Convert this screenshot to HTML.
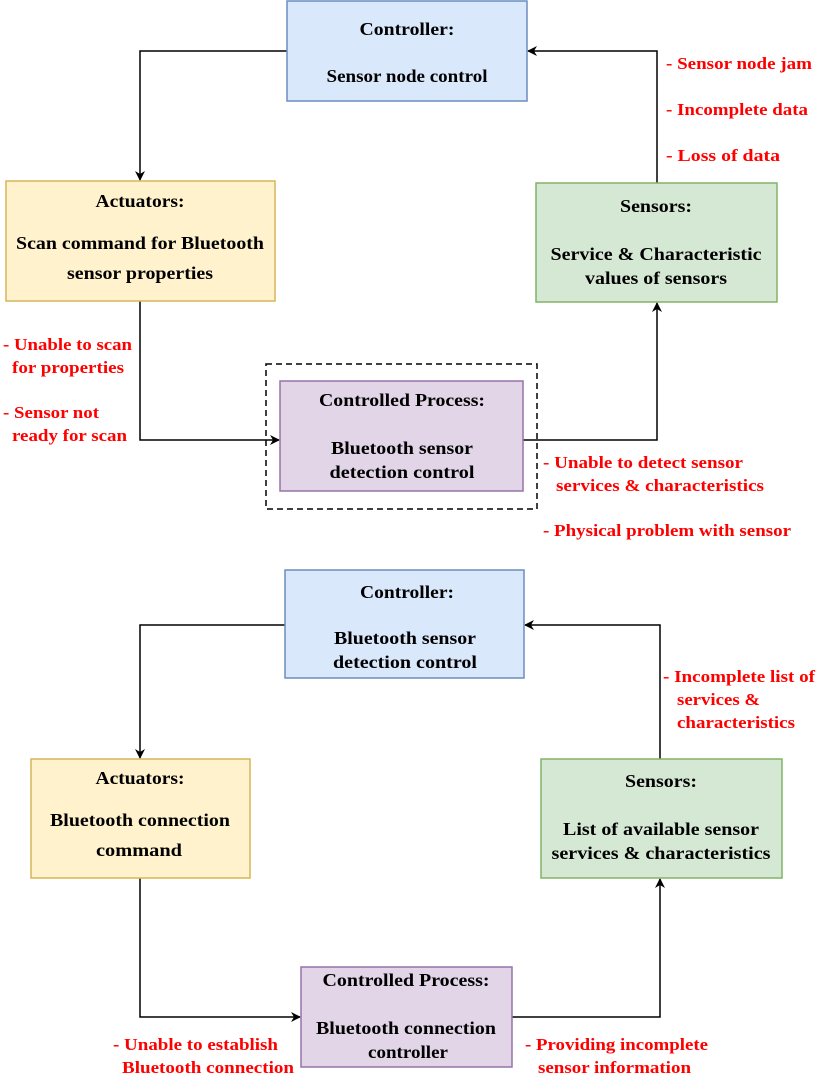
<!DOCTYPE html>
<html><head><meta charset="utf-8"><style>
html,body{margin:0;padding:0;background:#fff;}
svg{display:block;}
text{font-family:"Liberation Serif",serif;font-weight:bold;}
.b{font-size:17.5px;fill:#000;text-anchor:middle;}
.r{font-size:16.5px;fill:#ff0000;}
</style></head><body>
<svg width="825" height="1079" viewBox="0 0 825 1079" xmlns="http://www.w3.org/2000/svg">
<defs><marker id="a" markerWidth="10" markerHeight="10" refX="9" refY="5" orient="auto" markerUnits="userSpaceOnUse"><path d="M0,0 L10,5 L0,10 L3,5 z" fill="#000"/></marker></defs>
<g fill="none" stroke="#000" stroke-width="1.5">
<path d="M287,51 H140 V180" marker-end="url(#a)"/>
<path d="M140,301 V440 H279" marker-end="url(#a)"/>
<path d="M523,440 H657 V303" marker-end="url(#a)"/>
<path d="M657,183 V51 H528" marker-end="url(#a)"/>
<path d="M285,625 H140 V758" marker-end="url(#a)"/>
<path d="M140,878 V1017 H300" marker-end="url(#a)"/>
<path d="M512,1017 H660 V879" marker-end="url(#a)"/>
<path d="M660,759 V625 H525" marker-end="url(#a)"/>
</g>
<rect x="266" y="364" width="271" height="145" fill="none" stroke="#000" stroke-width="1.5" stroke-dasharray="6,4"/>
<g stroke-width="1.5">
<rect x="287" y="1" width="240" height="100" fill="#dae8fc" stroke="#6c8ebf"/>
<rect x="6" y="181" width="269" height="120" fill="#fff2cc" stroke="#d6b656"/>
<rect x="536" y="183" width="241" height="119" fill="#d5e8d4" stroke="#82b366"/>
<rect x="280" y="381" width="243" height="110" fill="#e1d5e7" stroke="#9673a6"/>
<rect x="285" y="570" width="239" height="108" fill="#dae8fc" stroke="#6c8ebf"/>
<rect x="31" y="759" width="219" height="119" fill="#fff2cc" stroke="#d6b656"/>
<rect x="541" y="759" width="241" height="119" fill="#d5e8d4" stroke="#82b366"/>
<rect x="301" y="967" width="211" height="100" fill="#e1d5e7" stroke="#9673a6"/>
</g>
<g class="b">
<text class="b" x="407" y="35" textLength="95" lengthAdjust="spacingAndGlyphs">Controller:</text>
<text class="b" x="407" y="82" textLength="161" lengthAdjust="spacingAndGlyphs">Sensor node control</text>
<text class="b" x="140" y="207" textLength="89" lengthAdjust="spacingAndGlyphs">Actuators:</text>
<text class="b" x="140" y="249" textLength="248" lengthAdjust="spacingAndGlyphs">Scan command for Bluetooth</text>
<text class="b" x="140" y="279" textLength="146" lengthAdjust="spacingAndGlyphs">sensor properties</text>
<text class="b" x="656" y="212" textLength="72" lengthAdjust="spacingAndGlyphs">Sensors:</text>
<text class="b" x="656" y="260" textLength="211" lengthAdjust="spacingAndGlyphs">Service &amp; Characteristic</text>
<text class="b" x="656" y="284" textLength="142" lengthAdjust="spacingAndGlyphs">values of sensors</text>
<text class="b" x="402" y="406" textLength="166" lengthAdjust="spacingAndGlyphs">Controlled Process:</text>
<text class="b" x="402" y="454" textLength="142" lengthAdjust="spacingAndGlyphs">Bluetooth sensor</text>
<text class="b" x="402" y="478" textLength="145" lengthAdjust="spacingAndGlyphs">detection control</text>
<text class="b" x="407" y="598" textLength="94" lengthAdjust="spacingAndGlyphs">Controller:</text>
<text class="b" x="405" y="644" textLength="142" lengthAdjust="spacingAndGlyphs">Bluetooth sensor</text>
<text class="b" x="405" y="668" textLength="144" lengthAdjust="spacingAndGlyphs">detection control</text>
<text class="b" x="140" y="784" textLength="89" lengthAdjust="spacingAndGlyphs">Actuators:</text>
<text class="b" x="140" y="826" textLength="180" lengthAdjust="spacingAndGlyphs">Bluetooth connection</text>
<text class="b" x="139" y="856" textLength="86" lengthAdjust="spacingAndGlyphs">command</text>
<text class="b" x="661" y="787" textLength="72" lengthAdjust="spacingAndGlyphs">Sensors:</text>
<text class="b" x="661" y="835" textLength="196" lengthAdjust="spacingAndGlyphs">List of available sensor</text>
<text class="b" x="661" y="859" textLength="219" lengthAdjust="spacingAndGlyphs">services &amp; characteristics</text>
<text class="b" x="406" y="986" textLength="167" lengthAdjust="spacingAndGlyphs">Controlled Process:</text>
<text class="b" x="406" y="1034" textLength="180" lengthAdjust="spacingAndGlyphs">Bluetooth connection</text>
<text class="b" x="408" y="1058" textLength="80" lengthAdjust="spacingAndGlyphs">controller</text>
</g>
<text class="r" x="666" y="69" textLength="146" lengthAdjust="spacingAndGlyphs">- Sensor node jam</text>
<text class="r" x="666" y="115" textLength="142" lengthAdjust="spacingAndGlyphs">- Incomplete data</text>
<text class="r" x="666" y="161" textLength="114" lengthAdjust="spacingAndGlyphs">- Loss of  data</text>
<text class="r" x="3" y="350" textLength="129" lengthAdjust="spacingAndGlyphs">- Unable to scan</text>
<text class="r" x="12" y="373" textLength="112" lengthAdjust="spacingAndGlyphs">for properties</text>
<text class="r" x="3" y="418" textLength="96" lengthAdjust="spacingAndGlyphs">- Sensor not</text>
<text class="r" x="12" y="441" textLength="115" lengthAdjust="spacingAndGlyphs">ready for scan</text>
<text class="r" x="543" y="468" textLength="200" lengthAdjust="spacingAndGlyphs">- Unable to detect sensor</text>
<text class="r" x="556" y="491" textLength="208" lengthAdjust="spacingAndGlyphs">services &amp; characteristics</text>
<text class="r" x="543" y="536" textLength="248" lengthAdjust="spacingAndGlyphs">- Physical problem with sensor</text>
<text class="r" x="663" y="682" textLength="152" lengthAdjust="spacingAndGlyphs">- Incomplete list of</text>
<text class="r" x="677" y="705" textLength="83" lengthAdjust="spacingAndGlyphs">services &amp;</text>
<text class="r" x="677" y="728" textLength="118" lengthAdjust="spacingAndGlyphs">characteristics</text>
<text class="r" x="113" y="1050" textLength="165" lengthAdjust="spacingAndGlyphs">- Unable to establish</text>
<text class="r" x="122" y="1073" textLength="172" lengthAdjust="spacingAndGlyphs">Bluetooth connection</text>
<text class="r" x="525" y="1050" textLength="183" lengthAdjust="spacingAndGlyphs">- Providing incomplete</text>
<text class="r" x="538" y="1073" textLength="153" lengthAdjust="spacingAndGlyphs">sensor information</text>
</svg>
</body></html>
